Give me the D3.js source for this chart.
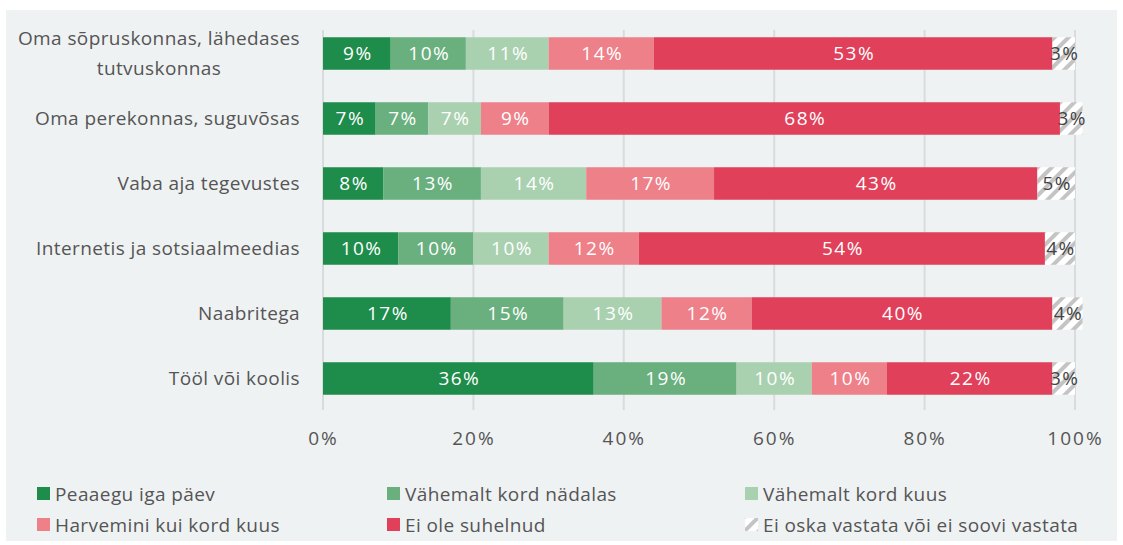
<!DOCTYPE html>
<html>
<head>
<meta charset="utf-8">
<script src="https://cdn.jsdelivr.net/npm/d3@7"></script>
<style>
  body { margin: 0; background: #fff; }
  text { font-family: "Open Sans", "Lato", sans-serif; }
</style>
</head>
<body>
<div id="dataviz"></div>
<script>
// categories (top to bottom)
const categories = [
  "Oma sõpruskonnas, lähedases tutvuskonnas",
  "Oma perekonnas, suguvõsas",
  "Vaba aja tegevustes",
  "Internetis ja sotsiaalmeedias",
  "Naabritega",
  "Tööl või koolis"
];
const categoryLines = [
  ["Oma sõpruskonnas, lähedases", "tutvuskonnas"],
  ["Oma perekonnas, suguvõsas"],
  ["Vaba aja tegevustes"],
  ["Internetis ja sotsiaalmeedias"],
  ["Naabritega"],
  ["Tööl või koolis"]
];
const seriesNames = [
  "Peaaegu iga päev",
  "Vähemalt kord nädalas",
  "Vähemalt kord kuus",
  "Harvemini kui kord kuus",
  "Ei ole suhelnud",
  "Ei oska vastata või ei soovi vastata"
];
const peaaegu   = [9, 7, 8, 10, 17, 36];
const nadalas   = [10, 7, 13, 10, 15, 19];
const kuus      = [11, 7, 14, 10, 13, 10];
const harvemini = [14, 9, 17, 12, 12, 10];
const eiOle     = [53, 68, 43, 54, 40, 22];
const eiOska    = [3, 3, 5, 4, 4, 3];
const ticks = [0, 20, 40, 60, 80, 100];

const colors = ["#1e8c4a", "#6aaf7e", "#a9d1b0", "#ee8089", "#e0405a", "url(#hatch)"];
const labelColors = ["#fff", "#fff", "#fff", "#fff", "#fff", "#444"];
const FS = 19;
const txt = "#555";

const W = 1123, H = 545;
const svg = d3.select("#dataviz").append("svg")
  .attr("width", W).attr("height", H);

const defs = svg.append("defs");
const pat = defs.append("pattern")
  .attr("id", "hatch")
  .attr("patternUnits", "userSpaceOnUse")
  .attr("width", 10).attr("height", 10)
  .attr("patternTransform", "rotate(45)");
pat.append("rect").attr("width", 10).attr("height", 10).attr("fill", "#fff");
pat.append("rect").attr("width", 4).attr("height", 10).attr("fill", "#c4c4c4");

// background panel
svg.append("rect")
  .attr("x", 6).attr("y", 10).attr("width", 1111).attr("height", 531)
  .attr("fill", "#eff2f3");

const x = d3.scaleLinear().domain([0, 100]).range([323, 1075]);
const y = d3.scaleBand().domain(categories).range([21, 411]).paddingInner(0.5).paddingOuter(0.25);

// gridlines
svg.append("g").selectAll("line").data(ticks).join("line")
  .attr("x1", d => x(d)).attr("x2", d => x(d))
  .attr("y1", 30).attr("y2", 410)
  .attr("stroke", "#d9dcde").attr("stroke-width", 2);

// x axis labels
const xAxis = d3.axisBottom(x).tickValues(ticks).tickFormat(d => d + "%").tickSize(0).tickPadding(0);
const gx = svg.append("g").attr("transform", "translate(0,431)").call(xAxis);
gx.select(".domain").remove();
gx.selectAll("text").attr("font-size", FS).attr("fill", txt).attr("dy", "0.71em")
  .attr("letter-spacing", 2)
  .style("font-family", "'Open Sans', sans-serif");

// stack data
const rows = categories.map((c, i) => {
  const vals = [peaaegu[i], nadalas[i], kuus[i], harvemini[i], eiOle[i], eiOska[i]];
  let acc = 0;
  return vals.map((v, k) => {
    const seg = { cat: c, k: k, v: v, x0: acc, x1: acc + v };
    acc += v;
    return seg;
  });
});

const bars = svg.append("g");
rows.forEach(segs => {
  const g = bars.append("g");
  g.selectAll("rect").data(segs).join("rect")
    .attr("x", d => x(d.x0))
    .attr("y", d => y(d.cat))
    .attr("width", d => x(d.x1) - x(d.x0))
    .attr("height", y.bandwidth())
    .attr("fill", d => colors[d.k]);
  g.selectAll("text").data(segs).join("text")
    .attr("x", d => (x(d.x0) + x(d.x1)) / 2 + 1)
    .attr("y", d => y(d.cat) + y.bandwidth() / 2)
    .attr("dy", "0.36em")
    .attr("text-anchor", "middle")
    .attr("font-size", FS)
    .attr("letter-spacing", 1.5)
    .attr("fill", d => labelColors[d.k])
    .text(d => d.v + "%");
});

// category labels
const cl = svg.append("g");
categories.forEach((c, i) => {
  const lines = categoryLines[i];
  const cy = y(c) + y.bandwidth() / 2;
  const t = cl.append("text")
    .attr("font-size", FS)
    .attr("letter-spacing", 0.4)
    .attr("fill", txt);
  let firstW = 0;
  lines.forEach((ln, j) => {
    const sp = t.append("tspan")
      .attr("x", 300)
      .attr("y", cy + (j - (lines.length - 1) / 2) * 30)
      .attr("dy", "0.36em")
      .attr("text-anchor", "end")
      .text(ln);
    if (j === 0) firstW = sp.node().getComputedTextLength();
    else sp.attr("text-anchor", "middle").attr("x", 300 - firstW / 2);
  });
});

// legend
const legX = [37, 387, 745];
const legY = [494, 525];
const leg = svg.append("g");
seriesNames.forEach((s, i) => {
  const lx = legX[i % 3], ly = legY[Math.floor(i / 3)];
  leg.append("rect")
    .attr("x", lx).attr("y", ly - 7).attr("width", 13).attr("height", 13)
    .attr("fill", colors[i]);
  leg.append("text")
    .attr("x", lx + 18).attr("y", ly)
    .attr("dy", "0.36em")
    .attr("font-size", FS).attr("letter-spacing", 0.4).attr("fill", txt)
    .text(s);
});
</script>
</body>
</html>
